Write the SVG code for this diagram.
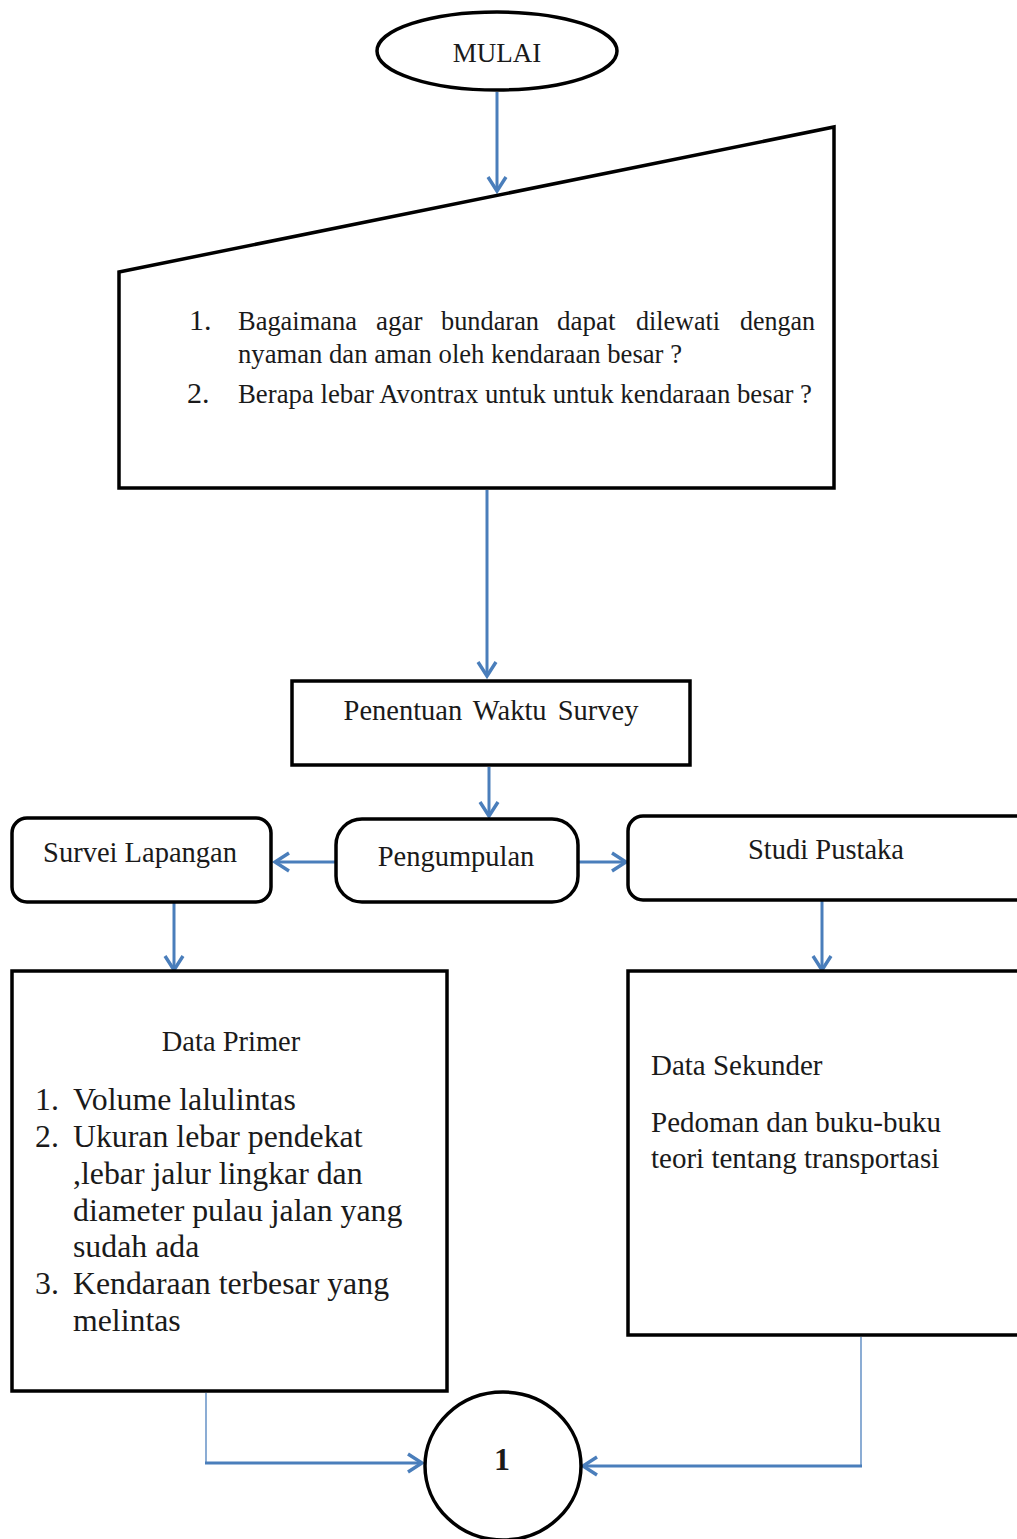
<svg xmlns="http://www.w3.org/2000/svg" width="1017" height="1539" viewBox="0 0 1017 1539">
<style>
.box{fill:#fff;stroke:#000;stroke-width:3.5}
.t{font-family:"Liberation Serif","Times New Roman",serif;fill:#1a1a1a}
.c{fill:none;stroke:#4a7ebb;stroke-width:3}
.thin{fill:none;stroke:#4a7ebb;stroke-width:1.6;opacity:0.8}
</style>
<defs>
<marker id="ah" viewBox="0 0 22 22" refX="18" refY="11" markerWidth="22" markerHeight="22" markerUnits="userSpaceOnUse" orient="auto">
<path d="M4,2 L18,11 L4,20" fill="none" stroke="#4a7ebb" stroke-width="3.4"/>
</marker>
</defs>
<rect width="1017" height="1539" fill="#fff"/>

<g id="connectors">
<line class="c" x1="497" y1="92" x2="497" y2="191" marker-end="url(#ah)"/>
<line class="c" x1="487" y1="490" x2="487" y2="676" marker-end="url(#ah)"/>
<line class="c" x1="489" y1="767" x2="489" y2="816" marker-end="url(#ah)"/>
<line class="c" x1="335" y1="862" x2="275" y2="862" marker-end="url(#ah)"/>
<line class="c" x1="579" y1="862" x2="626" y2="862" marker-end="url(#ah)"/>
<line class="c" x1="174" y1="903" x2="174" y2="970" marker-end="url(#ah)"/>
<line class="c" x1="822" y1="901" x2="822" y2="970" marker-end="url(#ah)"/>
<path class="thin" d="M206,1393 V1463"/>
<line class="c" x1="205" y1="1463" x2="422" y2="1463" marker-end="url(#ah)"/>
<path class="thin" d="M861,1337 V1466"/>
<line class="c" x1="862" y1="1466" x2="583" y2="1466" marker-end="url(#ah)"/>
</g>

<g id="mulai">
<ellipse class="box" cx="497" cy="51" rx="120" ry="39"/>
<text class="t" x="497" y="62" font-size="27" text-anchor="middle">MULAI</text>
</g>

<g id="rumusan">
<polygon class="box" points="119,272 834,127 834,488 119,488"/>
<text class="t" font-size="27">
<tspan x="189" y="330" font-size="30">1.</tspan>
<tspan x="238" y="330" textLength="119" lengthAdjust="spacingAndGlyphs">Bagaimana</tspan><tspan x="376" y="330">agar</tspan><tspan x="441" y="330" textLength="98" lengthAdjust="spacingAndGlyphs">bundaran</tspan><tspan x="557" y="330">dapat</tspan><tspan x="636" y="330" textLength="84" lengthAdjust="spacingAndGlyphs">dilewati</tspan><tspan x="740" y="330" textLength="75" lengthAdjust="spacingAndGlyphs">dengan</tspan>
</text>
<text class="t" x="238" y="363" font-size="27" textLength="444" lengthAdjust="spacingAndGlyphs">nyaman dan aman oleh kendaraan besar ?</text>
<text class="t" x="187" y="403" font-size="30">2.</text>
<text class="t" x="238" y="403" font-size="27" textLength="574" lengthAdjust="spacingAndGlyphs">Berapa lebar Avontrax untuk untuk kendaraan besar ?</text>
</g>

<g id="penentuan">
<rect class="box" x="292" y="681" width="398" height="84"/>
<text class="t" x="491" y="720" font-size="28.5" text-anchor="middle" word-spacing="4">Penentuan Waktu Survey</text>
</g>

<g id="pengumpulan">
<rect class="box" x="336" y="819" width="242" height="83" rx="26" ry="26"/>
<text class="t" x="456" y="866" font-size="28.5" text-anchor="middle">Pengumpulan</text>
</g>

<g id="survei">
<rect class="box" x="12" y="818" width="259" height="84" rx="15" ry="15"/>
<text class="t" x="140" y="862" font-size="28.5" text-anchor="middle">Survei Lapangan</text>
</g>

<g id="studi">
<rect class="box" x="628" y="816" width="405" height="84" rx="15" ry="15"/>
<text class="t" x="826" y="859" font-size="28.5" text-anchor="middle">Studi Pustaka</text>
</g>

<g id="primer">
<rect class="box" x="12" y="971" width="435" height="420"/>
<text class="t" x="231" y="1051" font-size="28.5" text-anchor="middle">Data Primer</text>
<g class="t" font-size="31.8">
<text x="35" y="1110">1.</text>
<text x="73" y="1110">Volume lalulintas</text>
<text x="35" y="1147">2.</text>
<text x="73" y="1147">Ukuran lebar pendekat</text>
<text x="73" y="1184">,lebar jalur lingkar dan</text>
<text x="73" y="1221">diameter pulau jalan yang</text>
<text x="73" y="1257">sudah ada</text>
<text x="35" y="1294">3.</text>
<text x="73" y="1294">Kendaraan terbesar yang</text>
<text x="73" y="1331">melintas</text>
</g>
</g>

<g id="sekunder">
<rect class="box" x="628" y="971" width="405" height="364"/>
<g class="t" font-size="29">
<text x="651" y="1075">Data Sekunder</text>
<text x="651" y="1132">Pedoman dan buku-buku</text>
<text x="651" y="1168">teori tentang transportasi</text>
</g>
</g>

<g id="konektor1">
<ellipse class="box" cx="503" cy="1466" rx="78" ry="74"/>
<text class="t" x="502" y="1470" font-size="32" font-weight="bold" text-anchor="middle">1</text>
</g>
</svg>
